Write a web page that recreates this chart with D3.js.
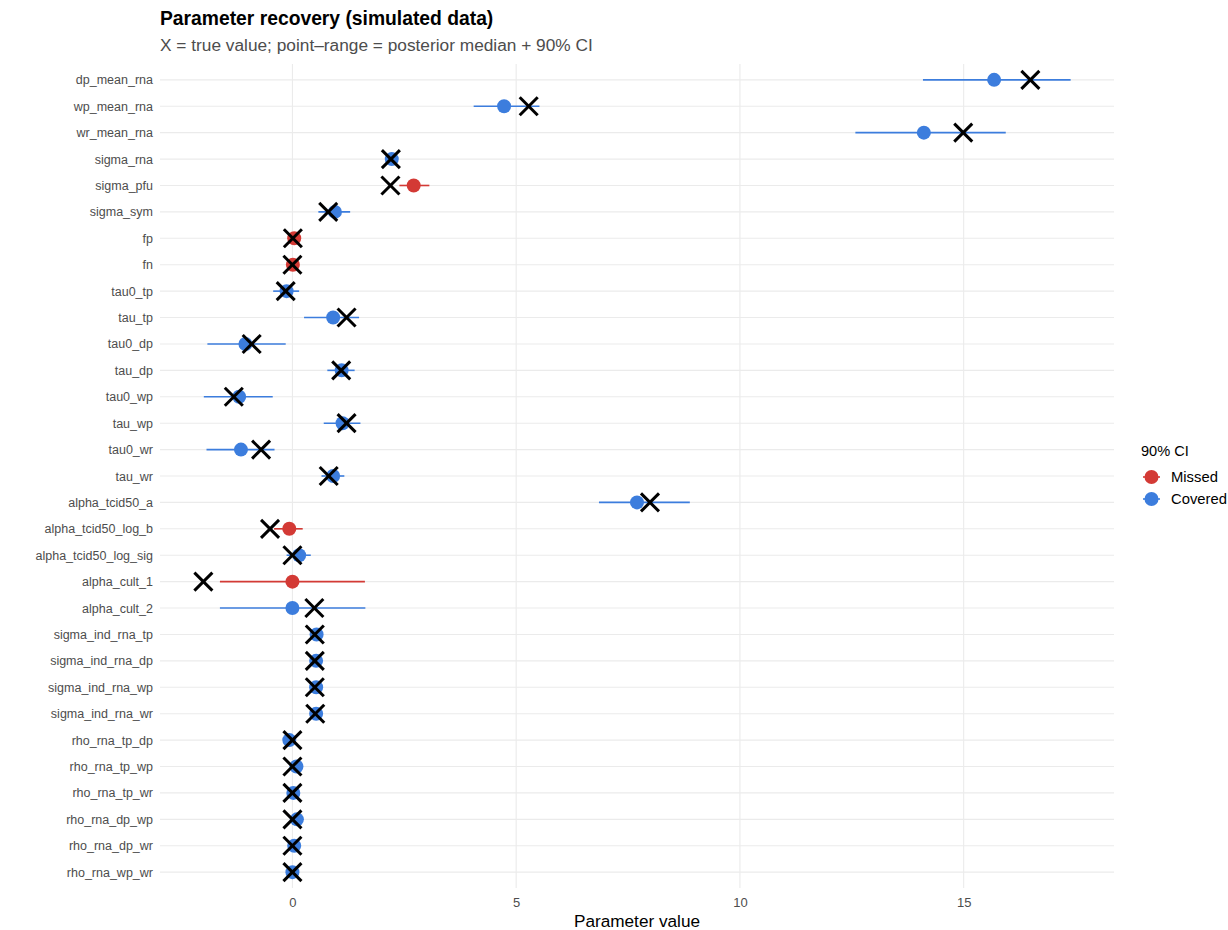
<!DOCTYPE html>
<html>
<head>
<meta charset="utf-8">
<script src="https://cdn.jsdelivr.net/npm/d3@7"></script>
<style>
  body { margin: 0; background: #fff; }
  svg { display: block; font-family: "Liberation Sans", Arial, Helvetica, sans-serif; }
</style>
</head>
<body>
<div id="chart"></div>
<script>
// Parameters, top to bottom
const params = [
  "dp_mean_rna","wp_mean_rna","wr_mean_rna","sigma_rna","sigma_pfu","sigma_sym",
  "fp","fn","tau0_tp","tau_tp","tau0_dp","tau_dp","tau0_wp","tau_wp","tau0_wr","tau_wr",
  "alpha_tcid50_a","alpha_tcid50_log_b","alpha_tcid50_log_sig","alpha_cult_1","alpha_cult_2",
  "sigma_ind_rna_tp","sigma_ind_rna_dp","sigma_ind_rna_wp","sigma_ind_rna_wr",
  "rho_rna_tp_dp","rho_rna_tp_wp","rho_rna_tp_wr","rho_rna_dp_wp","rho_rna_dp_wr","rho_rna_wp_wr"
];
// Posterior median
const median = [
  15.68, 4.73, 14.11, 2.22, 2.71, 0.95,
  0.04, 0.01, -0.13, 0.91, -1.05, 1.10, -1.19, 1.12, -1.15, 0.91,
  7.70, -0.07, 0.15, 0.00, 0.00,
  0.54, 0.53, 0.53, 0.53,
  -0.07, 0.09, 0.02, 0.10, 0.04, 0.00
];
// 90% credible interval bounds
const lower = [
  14.09, 4.05, 12.58, 2.12, 2.39, 0.58,
  0.03, 0.005, -0.43, 0.26, -1.90, 0.78, -1.98, 0.70, -1.92, 0.65,
  6.85, -0.41, -0.13, -1.62, -1.62,
  0.45, 0.45, 0.45, 0.45,
  -0.15, -0.02, -0.08, 0.00, -0.06, -0.09
];
const upper = [
  17.39, 5.52, 15.94, 2.34, 3.06, 1.29,
  0.06, 0.02, 0.15, 1.49, -0.15, 1.39, -0.44, 1.52, -0.40, 1.16,
  8.88, 0.23, 0.41, 1.62, 1.63,
  0.64, 0.62, 0.62, 0.62,
  0.02, 0.17, 0.11, 0.19, 0.13, 0.08
];
// True simulated value
const truth = [
  16.49, 5.28, 14.99, 2.20, 2.19, 0.80,
  0.01, 0.00, -0.15, 1.21, -0.91, 1.09, -1.31, 1.21, -0.70, 0.81,
  7.99, -0.50, 0.00, -1.99, 0.49,
  0.50, 0.50, 0.50, 0.51,
  0.00, 0.00, 0.00, 0.00, 0.00, 0.00
];
const xTicks = [0, 5, 10, 15];
const statusLabels = ["Missed", "Covered"];
const statusColors = ["#D33A35", "#3C7DDD"];

const rows = params.map((p, i) => ({
  param: p, med: median[i], lo: lower[i], hi: upper[i], tru: truth[i],
  status: (truth[i] >= lower[i] && truth[i] <= upper[i]) ? "Covered" : "Missed"
}));

const W = 1228, H = 930;
const panel = { left: 160, right: 1114, top: 64, bottom: 888 };

const svg = d3.select("#chart").append("svg").attr("width", W).attr("height", H);

const allVals = rows.flatMap(d => [d.lo, d.hi, d.tru, d.med]);
const ext = d3.extent(allVals);
const pad = (ext[1] - ext[0]) * 0.05;
const x = d3.scaleLinear().domain([ext[0] - pad, ext[1] + pad]).range([panel.left, panel.right]);

const y = d3.scalePoint().domain(params).range([panel.top, panel.bottom]).padding(0.6);
const color = d3.scaleOrdinal().domain(statusLabels).range(statusColors);

// Grid
const grid = svg.append("g");
grid.selectAll("line.v").data(xTicks).join("line")
  .attr("x1", d => x(d)).attr("x2", d => x(d))
  .attr("y1", panel.top).attr("y2", panel.bottom)
  .attr("stroke", "#EBEBEB").attr("stroke-width", 1.1);
grid.selectAll("line.h").data(params).join("line")
  .attr("x1", panel.left).attr("x2", panel.right)
  .attr("y1", d => y(d)).attr("y2", d => y(d))
  .attr("stroke", "#EBEBEB").attr("stroke-width", 1.1);

// Axes (text only, no lines)
const xAxis = svg.append("g").attr("transform", `translate(0,${panel.bottom})`)
  .call(d3.axisBottom(x).tickValues(xTicks).tickSize(0).tickPadding(10).tickFormat(d3.format("d")));
xAxis.select(".domain").remove();
xAxis.selectAll("text").attr("fill", "#4D4D4D").style("font-size", "13px")
  .style("font-family", "Liberation Sans, Arial, sans-serif");

const yAxis = svg.append("g").attr("transform", `translate(${panel.left},0)`)
  .call(d3.axisLeft(y).tickSize(0).tickPadding(7));
yAxis.select(".domain").remove();
yAxis.selectAll("text").attr("fill", "#4D4D4D").style("font-size", "12.5px")
  .style("font-family", "Liberation Sans, Arial, sans-serif");

// Interval lines
const marks = svg.append("g");
marks.selectAll("line.ci").data(rows).join("line")
  .attr("x1", d => x(d.lo)).attr("x2", d => x(d.hi))
  .attr("y1", d => y(d.param)).attr("y2", d => y(d.param))
  .attr("stroke", d => color(d.status)).attr("stroke-width", 1.6);

// Medians
marks.selectAll("circle.med").data(rows).join("circle")
  .attr("cx", d => x(d.med)).attr("cy", d => y(d.param)).attr("r", 7)
  .attr("fill", d => color(d.status));

// True values as crosses
const s = 9;
const cross = marks.selectAll("g.tru").data(rows).join("g")
  .attr("transform", d => `translate(${x(d.tru)},${y(d.param)})`);
cross.append("line").attr("x1", -s).attr("y1", -s).attr("x2", s).attr("y2", s)
  .attr("stroke", "#000").attr("stroke-width", 3);
cross.append("line").attr("x1", -s).attr("y1", s).attr("x2", s).attr("y2", -s)
  .attr("stroke", "#000").attr("stroke-width", 3);

// Titles
svg.append("text").attr("x", 160).attr("y", 25).text("Parameter recovery (simulated data)")
  .style("font-size", "19.3px").style("font-weight", "bold").attr("fill", "#000");
svg.append("text").attr("x", 160).attr("y", 51)
  .text("X = true value; point\u2013range = posterior median + 90% CI")
  .style("font-size", "17.3px").attr("fill", "#4D4D4D");
svg.append("text").attr("x", (panel.left + panel.right) / 2).attr("y", 927)
  .attr("text-anchor", "middle").text("Parameter value")
  .style("font-size", "17.2px").attr("fill", "#000");

// Legend
const lg = svg.append("g").attr("transform", "translate(1141,0)");
lg.append("text").attr("x", 0).attr("y", 456).text("90% CI").style("font-size", "14.6px").attr("fill", "#000");
const items = lg.selectAll("g.item").data(statusLabels).join("g")
  .attr("transform", (d, i) => `translate(0,${477 + i * 22})`);
items.append("line").attr("x1", 2).attr("x2", 19).attr("y1", 0).attr("y2", 0)
  .attr("stroke", d => color(d)).attr("stroke-width", 1.6);
items.append("circle").attr("cx", 10.5).attr("cy", 0).attr("r", 7).attr("fill", d => color(d));
items.append("text").attr("x", 30).attr("y", 5).text(d => d).style("font-size", "14.8px").attr("fill", "#000");
</script>
</body>
</html>
